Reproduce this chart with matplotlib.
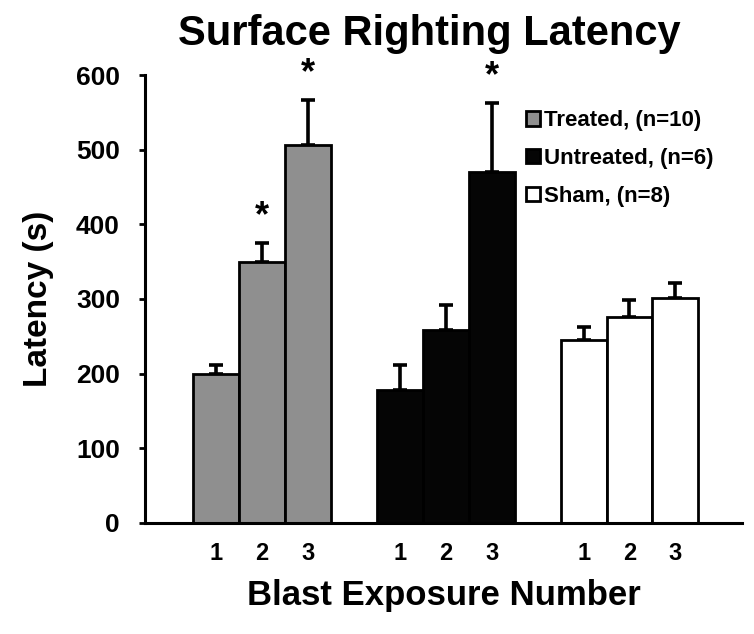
import matplotlib
matplotlib.use("Agg")
import matplotlib.pyplot as plt
import numpy as np

plt.rcParams['font.family'] = ['Liberation Sans', 'DejaVu Sans']

groups = ['Treated, (n=10)', 'Untreated, (n=6)', 'Sham, (n=8)']
exposures = ['1', '2', '3']
treated = [199, 350, 506]
treated_err = [13, 25, 61]
untreated = [178, 258, 470]
untreated_err = [34, 34, 92]
sham = [245, 276, 301]
sham_err = [18, 23, 20]
stars = [(0, 1), (0, 2), (1, 2)]  # (group, exposure) marked significant

colors = ['#8f8f8f', '#050505', '#ffffff']
means = [treated, untreated, sham]
errs = [treated_err, untreated_err, sham_err]

fig = plt.figure(figsize=(7.54, 6.34), dpi=100)
ax = fig.add_axes([0.1923, 0.1751, 0.7918, 0.7066])

xpos = []
for g in range(3):
    x = np.arange(3) + 4 * g
    xpos.extend(x)
    ax.bar(x, means[g], width=1.0, color=colors[g], edgecolor='black',
           linewidth=2.0, label=groups[g], zorder=2)
    ax.errorbar(x, means[g], yerr=[np.zeros(3), errs[g]], fmt='none',
                ecolor='black', elinewidth=2.6, capsize=5, capthick=2.6,
                zorder=1, clip_on=False)

for g, i in stars:
    top = means[g][i] + errs[g][i]
    ax.text(4 * g + i, top + 12, '*', ha='center', va='bottom',
            fontsize=26, fontweight='bold', clip_on=False)

ax.set_xlim(-1.55, 11.45)
ax.set_ylim(0, 600)
ax.set_yticks(range(0, 601, 100))
ax.set_xticks(xpos)
ax.set_xticklabels(exposures * 3)
ax.tick_params(axis='x', length=0, pad=14, labelsize=17)
ax.tick_params(axis='y', length=4, width=2, pad=14, labelsize=19, direction='out')
for lab in ax.get_xticklabels() + ax.get_yticklabels():
    lab.set_fontweight('bold')

ax.spines['top'].set_visible(False)
ax.spines['right'].set_visible(False)
ax.spines['left'].set_linewidth(2.2)
ax.spines['bottom'].set_linewidth(2.2)

ax.set_ylabel('Latency (s)', fontsize=24, fontweight='bold', labelpad=16)
ax.set_xlabel('Blast Exposure Number', fontsize=25, fontweight='bold', labelpad=10)
fig.suptitle('Surface Righting Latency', fontsize=30, fontweight='bold',
             x=0.57, y=0.978)

ax.legend(loc='upper left', bbox_to_anchor=(0.698, 0.826),
          bbox_transform=fig.transFigure, frameon=False, borderpad=0,
          borderaxespad=0, handlelength=0.6, handleheight=0.6,
          handletextpad=0.2, labelspacing=0.75,
          prop={'size': 16, 'weight': 'bold'})

fig.savefig('out.png', dpi=100)
